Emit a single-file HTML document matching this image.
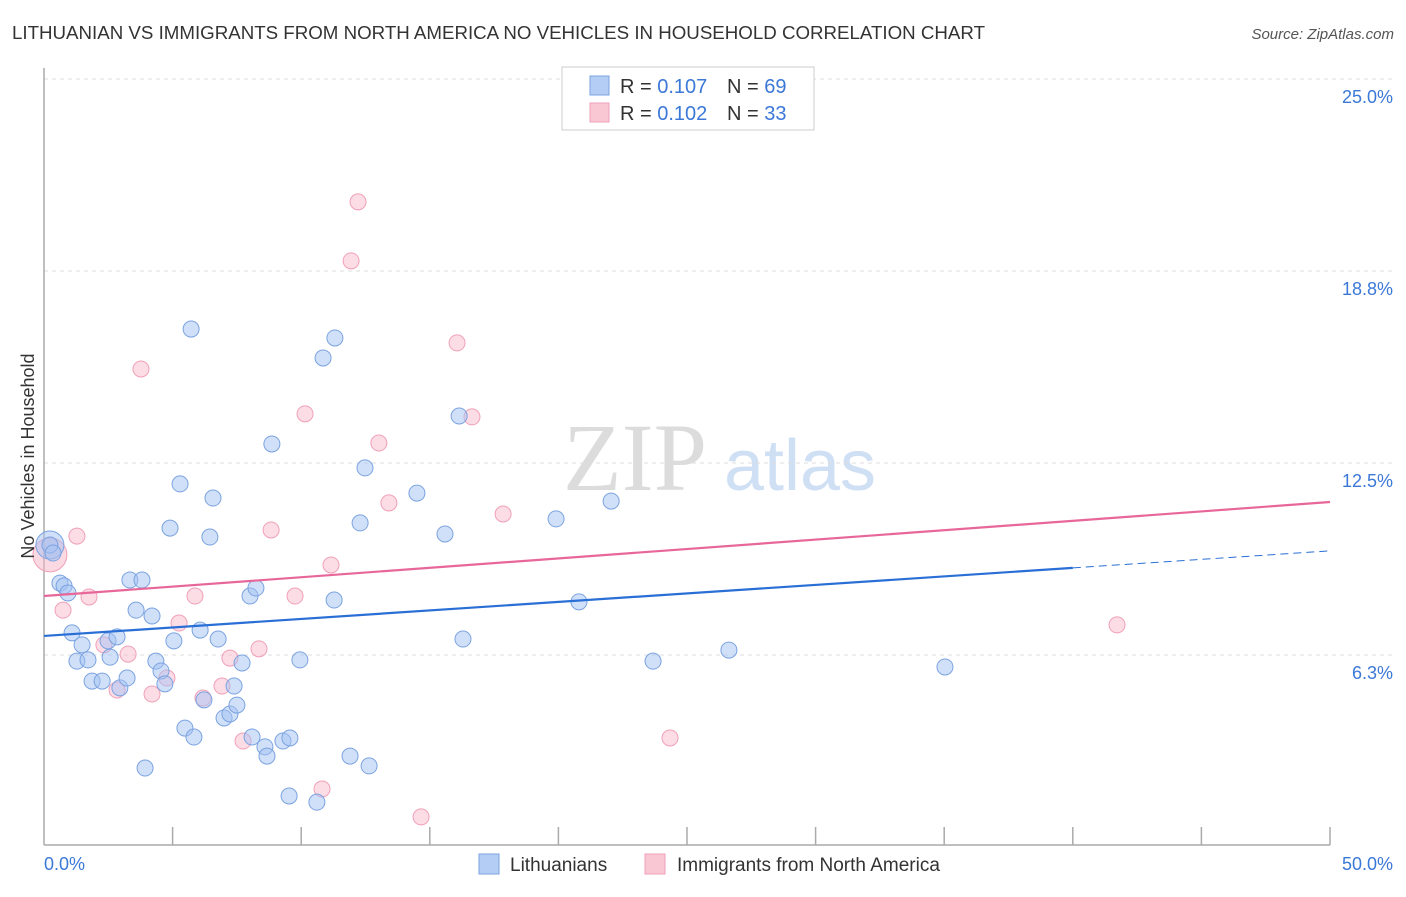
<!DOCTYPE html>
<html><head><meta charset="utf-8">
<style>
body{margin:0;background:#fff;font-family:"Liberation Sans",sans-serif;}
svg text{font-family:"Liberation Sans",sans-serif;}
</style></head>
<body>
<svg id="chart" width="1406" height="892" xmlns="http://www.w3.org/2000/svg">
<text x="12" y="39" font-size="18" fill="#333" textLength="973" lengthAdjust="spacingAndGlyphs">LITHUANIAN VS IMMIGRANTS FROM NORTH AMERICA NO VEHICLES IN HOUSEHOLD CORRELATION CHART</text>
<text x="1394" y="39" font-size="15" fill="#555" text-anchor="end" font-style="italic">Source: ZipAtlas.com</text>
<g>
<text x="635" y="490" font-size="96" fill="#dcdcdc" text-anchor="middle" style="font-family:'Liberation Serif',serif">ZIP</text>
<text x="800" y="490" font-size="72" fill="#cfe0f5" text-anchor="middle">atlas</text>
</g>
<g id="grid"></g>
<g id="axes"></g>
<g id="pts"></g>
<g id="lines"></g>
<text transform="translate(34,456) rotate(-90)" font-size="18" fill="#333" text-anchor="middle">No Vehicles in Household</text>
<g>
<rect x="562" y="67" width="252" height="63" fill="#fff" stroke="#ccc"/>
<rect x="590" y="76" width="19" height="19" fill="#b4cdf4" stroke="#7ba3e0"/>
<text x="620" y="93" font-size="20" fill="#333">R = <tspan fill="#3b78d8">0.107</tspan><tspan x="727">N = </tspan><tspan fill="#3b78d8">69</tspan></text>
<rect x="590" y="103" width="19" height="19" fill="#f9c6d4" stroke="#f0a0b8"/>
<text x="620" y="120" font-size="20" fill="#333">R = <tspan fill="#3b78d8">0.102</tspan><tspan x="727">N = </tspan><tspan fill="#3b78d8">33</tspan></text>
</g>
<g>
<rect x="479" y="854" width="20" height="20" fill="#b4cdf4" stroke="#7ba3e0"/>
<text x="510" y="871" font-size="19" fill="#333">Lithuanians</text>
<rect x="645" y="854" width="20" height="20" fill="#f9c6d4" stroke="#f0a0b8"/>
<text x="677" y="871" font-size="19" fill="#333">Immigrants from North America</text>
</g>
</svg>
<script>
const yTicks=[6.25,12.5,18.75,25];
const yTickLabels=["6.3%","12.5%","18.8%","25.0%"];
const xLabels=["0.0%","50.0%"];
const blueX=[0.23,0.35,0.62,0.78,0.93,1.09,1.48,1.28,1.71,1.87,2.26,2.57,2.49,2.84,2.95,3.23,3.34,3.81,3.58,4.20,3.93,4.35,4.55,4.70,4.90,5.05,5.29,5.72,5.48,5.83,6.07,6.22,6.45,6.57,6.77,7.00,7.23,7.39,7.50,7.70,8.01,8.24,8.09,8.59,8.67,8.86,9.29,9.56,9.53,9.95,10.61,10.85,11.31,11.28,11.90,12.29,12.48,12.64,14.50,15.59,16.14,16.29,19.91,20.80,22.05,23.68,26.63,35.03];
const blueY=[9.83,9.57,8.59,8.50,8.27,6.97,6.58,6.05,6.09,5.40,5.40,6.18,6.71,6.84,5.18,5.50,8.69,8.69,7.71,7.52,2.57,6.05,5.73,5.31,10.38,6.71,11.82,16.86,3.87,3.58,7.06,4.79,10.09,11.36,6.77,4.20,4.33,5.24,4.62,5.99,8.17,8.43,3.58,3.26,2.96,13.12,3.45,3.55,1.66,6.09,1.46,15.92,16.57,8.04,2.96,10.55,12.34,2.64,11.52,10.19,14.03,6.77,10.68,7.98,11.26,6.05,6.41,5.86];
const pinkX=[1.28,0.74,1.75,2.33,3.27,2.84,3.77,4.20,4.78,5.25,5.87,6.18,6.92,7.23,7.74,8.36,8.83,9.76,10.15,10.81,11.16,11.94,12.21,13.02,13.41,14.66,16.06,16.64,17.85,24.34,41.72];
const pinkY=[10.12,7.71,8.14,6.58,6.28,5.11,15.56,4.98,5.50,7.29,8.17,4.85,5.24,6.15,3.45,6.45,10.32,8.17,14.10,1.89,9.18,19.08,21.00,13.15,11.20,0.98,16.41,14.00,10.84,3.55,7.23];
const bigX=[0.23,0.23];
const bigY=[9.51,9.83];
const blueTrend=[6.87,9.64];
const pinkTrend=[8.17,11.23];
const blueSolidEnd=40;

const NS="http://www.w3.org/2000/svg";
const X=v=>44+v*25.72, Y=v=>847-v*30.72;
function mk(parent,tag,attrs){const e=document.createElementNS(NS,tag);for(const k in attrs)e.setAttribute(k,attrs[k]);document.getElementById(parent).appendChild(e);return e;}
yTicks.forEach((t,i)=>{
  const l=mk('grid','line',{x1:44,x2:1394,y1:Y(t),y2:Y(t),stroke:'#ddd','stroke-dasharray':'4,4'});
  
  
  const tx=mk('grid','text',{x:1393,y:Y(t)+24,'font-size':18,fill:'#3b78d8','text-anchor':'end'});
  tx.textContent=yTickLabels[i];
  
  
});
const ya=mk('axes','line',{x1:44,x2:44,y1:68,y2:845,stroke:'#aaa','stroke-width':1.5});


const xa=mk('axes','line',{x1:44,x2:1330,y1:845,y2:845,stroke:'#aaa','stroke-width':1.5});


for(let i=1;i<=10;i++){const t=mk('axes','line',{x1:X(i*5),x2:X(i*5),y1:827,y2:845,stroke:'#aaa','stroke-width':1.5});

}
const xl0=mk('axes','text',{x:44,y:870,'font-size':18,fill:'#3b78d8'});xl0.textContent=xLabels[0];


const xl1=mk('axes','text',{x:1393,y:870,'font-size':18,fill:'#3b78d8','text-anchor':'end'});xl1.textContent=xLabels[1];



const bc=mk('pts','circle',{cx:X(bigX[0]),cy:Y(bigY[0]),r:17,fill:'rgba(248,180,200,0.5)',stroke:'#f0a0b8'});


const bb=mk('pts','circle',{cx:X(bigX[1]),cy:Y(bigY[1]),r:14,fill:'rgba(164,194,244,0.5)',stroke:'#7ba3e0'});


pinkX.forEach((v,i)=>{const c=mk('pts','circle',{cx:X(v),cy:Y(pinkY[i]),r:8,fill:'rgba(248,180,200,0.45)',stroke:'#f0a0b8'});

});
blueX.forEach((v,i)=>{const c=mk('pts','circle',{cx:X(v),cy:Y(blueY[i]),r:8,fill:'rgba(164,194,244,0.5)',stroke:'#7ba3e0'});

});

const by=x=>blueTrend[0]+(blueTrend[1]-blueTrend[0])*x/50;
const bl=mk('lines','line',{x1:X(0),y1:Y(by(0)),x2:X(blueSolidEnd),y2:Y(by(blueSolidEnd)),stroke:'#2a6fd6','stroke-width':2.2});


const bd=mk('lines','line',{x1:X(blueSolidEnd),y1:Y(by(blueSolidEnd)),x2:X(50),y2:Y(by(50)),stroke:'#2a6fd6','stroke-width':1,'stroke-dasharray':'8,5'});


const pl=mk('lines','line',{x1:X(0),y1:Y(pinkTrend[0]),x2:X(50),y2:Y(pinkTrend[1]),stroke:'#e8679a','stroke-width':2.2});


</script>
</body></html>
